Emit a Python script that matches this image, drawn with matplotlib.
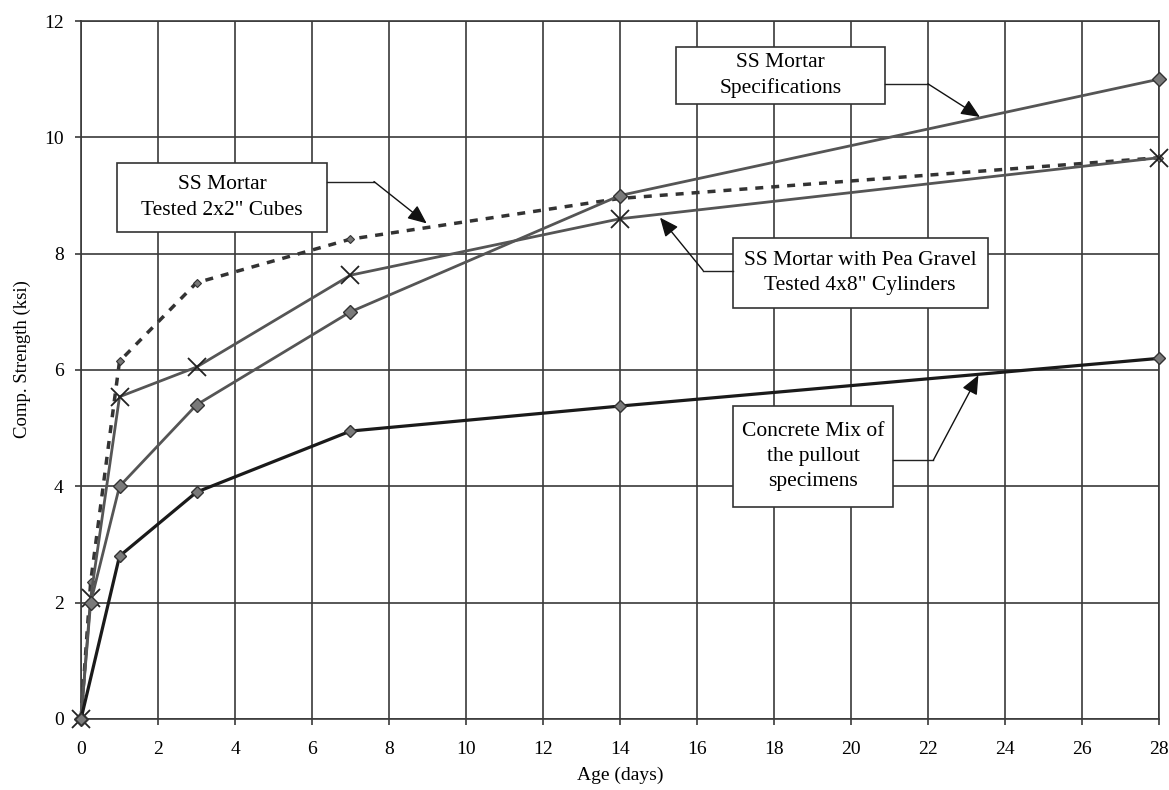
import matplotlib
matplotlib.use("Agg")
import matplotlib.pyplot as plt
from matplotlib.patches import Rectangle

plt.rcParams['font.family'] = ['Liberation Serif', 'DejaVu Serif']

# Age at test (days)
age_spec = [0, 0.25, 1, 3, 7, 14, 28]
age_concrete = [0, 1, 3, 7, 14, 28]
age_cubes = [0, 0.25, 1, 3, 7, 14, 28]
age_pea = [0, 0.25, 1, 3, 7, 14, 28]

# Compressive strength (ksi)
strength_spec = [0, 2.0, 4.0, 5.4, 7.0, 9.0, 11.0]
strength_concrete = [0, 2.8, 3.9, 4.95, 5.38, 6.2]
strength_cubes = [0, 2.35, 6.15, 7.5, 8.25, 8.95, 9.65]
strength_pea = [0, 2.08, 5.54, 6.05, 7.63, 8.6, 9.65]

x_ticks = list(range(0, 29, 2))
y_ticks = list(range(0, 13, 2))

fig = plt.figure(figsize=(11.69, 7.90), dpi=100)
ax = fig.add_axes([0.0693, 0.0899, 0.9221, 0.8835])

grid_col = '#3a3a3a'
ax.set_xlim(0, 28)
ax.set_ylim(0, 12)
ax.set_xticks(x_ticks)
ax.set_yticks(y_ticks)
ax.grid(True, color=grid_col, linewidth=1.2, zorder=0)
ax.set_axisbelow(True)
for sp in ax.spines.values():
    sp.set_color(grid_col)
    sp.set_linewidth(1.2)
ax.tick_params(axis='both', direction='out', length=4, width=1.2, color=grid_col,
               labelsize=14)
ax.tick_params(axis='x', pad=12)
ax.tick_params(axis='y', pad=8.5)

ax.set_xlabel('Age (days)', fontsize=14, labelpad=6)
ax.set_ylabel('Comp. Strength (ksi)', fontsize=13.5)
ax.yaxis.set_label_coords(-0.046, 0.515)

# Series
ax.plot(age_cubes, strength_cubes, color='#333333', lw=2.5, linestyle=(0, (2.3, 2.3)),
        marker='D', ms=4.2, mfc='#777777', mec='#333333', mew=0.8, zorder=3,
        clip_on=False)
ax.plot(age_pea, strength_pea, color='#555555', lw=2.0, marker='x', ms=13,
        mec='#222222', mew=1.3, zorder=4, clip_on=False)
ax.plot(age_spec, strength_spec, color='#555555', lw=2.0, marker='D', ms=6.8,
        mfc='#7a7a7a', mec='#333333', mew=1.0, zorder=5, clip_on=False)
ax.plot(age_concrete, strength_concrete, color='#1a1a1a', lw=2.3, marker='D', ms=6.4,
        mfc='#7a7a7a', mec='#333333', mew=1.0, zorder=6, clip_on=False)


def callout(x0, y0, x1, y1, lines, start, elbow, tip):
    ax.add_patch(Rectangle((x0, y0), x1 - x0, y1 - y0, facecolor='white',
                           edgecolor='#333333', linewidth=1.2, zorder=8))
    ax.text((x0 + x1) / 2, (y0 + y1) / 2, lines, ha='center', va='center',
            fontsize=15.5, linespacing=1.45, zorder=9)
    ax.plot([start[0], elbow[0]], [start[1], elbow[1]], color='#222222', lw=1.0, zorder=8)
    ax.annotate('', xy=tip, xytext=elbow,
                arrowprops=dict(arrowstyle='-|>,head_length=1.15,head_width=0.5',
                                color='#111111', lw=1.0, shrinkA=0, shrinkB=0),
                zorder=8)


callout(15.45, 10.57, 20.88, 11.56, 'SS Mortar\nSpecifications',
        (20.88, 10.92), (22.0, 10.92), (23.35, 10.35))
callout(0.935, 8.37, 6.39, 9.56, 'SS Mortar\nTested 2x2" Cubes',
        (6.39, 9.24), (7.61, 9.24), (8.98, 8.52))
callout(16.93, 7.07, 23.55, 8.27, 'SS Mortar with Pea Gravel\nTested 4x8" Cylinders',
        (16.93, 7.71), (16.16, 7.71), (15.04, 8.62))
callout(16.93, 3.65, 21.10, 5.38, 'Concrete Mix of\nthe pullout\nspecimens',
        (21.10, 4.45), (22.14, 4.45), (23.31, 5.91))

fig.savefig('out.png', dpi=100)
